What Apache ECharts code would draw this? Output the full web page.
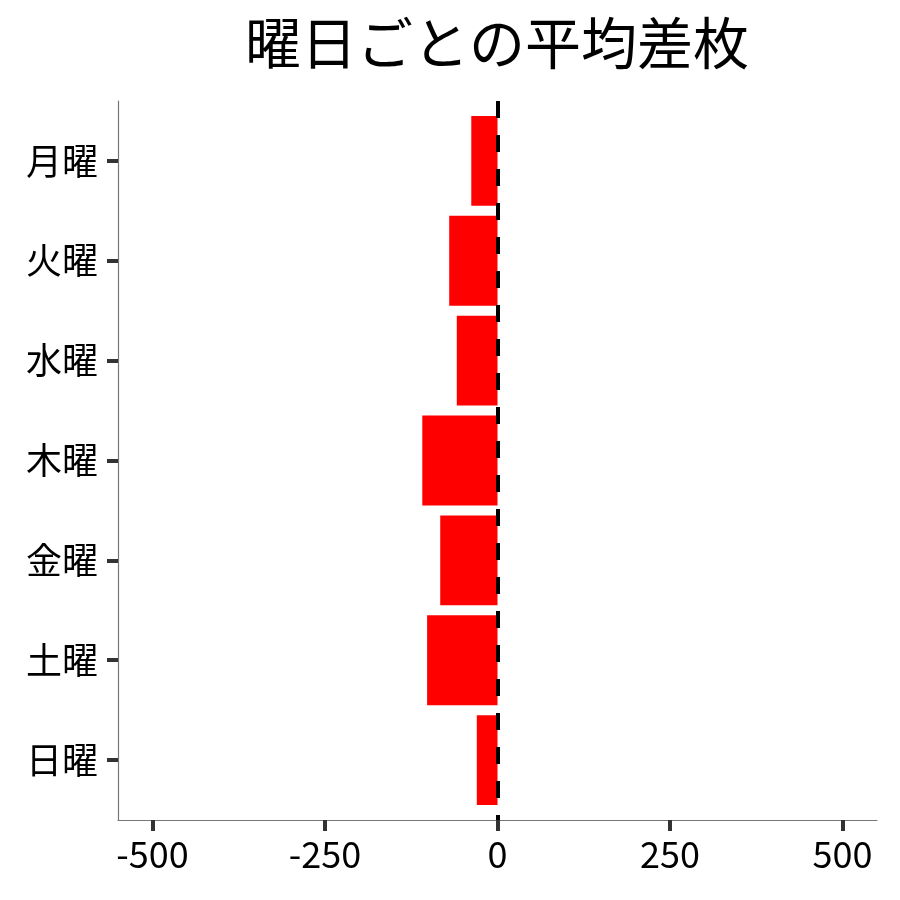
<!DOCTYPE html>
<html>
<head>
<meta charset="utf-8">
<script src="https://cdn.jsdelivr.net/npm/echarts@6/dist/echarts.min.js"></script>
<style>
html, body { margin: 0; padding: 0; background: #fff; }
#chart { width: 900px; height: 900px; }
</style>
</head>
<body>
<div id="chart"></div>
<script>
// 曜日ごとの平均差枚
var days = ['月曜', '火曜', '水曜', '木曜', '金曜', '土曜', '日曜'];
var avgDiff = [-38, -70, -59, -109, -83, -102, -30];
var xTicks = [-500, -250, 0, 250, 500];
var dayPos = [1, 2, 3, 4, 5, 6, 7];

var FONT = '"Noto Sans CJK JP", "Noto Sans", sans-serif';

function renderBar(params, api) {
    var v = api.value(0);
    var y = api.value(1);
    var a = api.coord([0, y - 0.45]);
    var b = api.coord([v, y + 0.45]);
    return {
        type: 'rect',
        shape: {
            x: Math.min(a[0], b[0]),
            y: Math.min(a[1], b[1]),
            width: Math.abs(b[0] - a[0]),
            height: Math.abs(b[1] - a[1])
        },
        style: { fill: '#ff0000' }
    };
}

var chart = echarts.init(document.getElementById('chart'));
chart.setOption({
    animation: false,
    backgroundColor: '#fff',
    title: {
        text: '曜日ごとの平均差枚',
        left: 497,
        top: 15,
        padding: 0,
        textAlign: 'center',
        textStyle: { fontFamily: FONT, fontSize: 56, fontWeight: 'normal', color: '#000' }
    },
    grid: { left: 118, right: 23, top: 101, bottom: 80 },
    xAxis: {
        type: 'value',
        min: -550,
        max: 550,
        splitLine: { show: false },
        axisLine: { show: true, onZero: false, lineStyle: { color: '#777', width: 1.2 } },
        axisTick: { show: true, customValues: xTicks, length: 11, lineStyle: { color: '#333', width: 4 } },
        axisLabel: { customValues: xTicks, margin: 16, fontFamily: FONT, fontSize: 36, color: '#000' }
    },
    yAxis: {
        type: 'value',
        inverse: true,
        min: 0.4,
        max: 7.6,
        splitLine: { show: false },
        axisLine: { show: true, onZero: false, lineStyle: { color: '#777', width: 1.2 } },
        axisTick: { show: true, customValues: dayPos, length: 11, lineStyle: { color: '#333', width: 4 } },
        axisLabel: {
            customValues: dayPos,
            margin: 20,
            fontFamily: FONT,
            fontSize: 36,
            color: '#000',
            formatter: function (v) { return days[Math.round(v) - 1]; }
        }
    },
    series: [{
        type: 'custom',
        renderItem: renderBar,
        encode: { x: 0, y: 1 },
        data: avgDiff.map(function (v, i) { return [v, dayPos[i]]; }),
        markLine: {
            silent: true,
            symbol: ['none', 'none'],
            label: { show: false },
            lineStyle: { color: '#000', width: 4, type: [17, 17] },
            data: [{ xAxis: 0 }]
        }
    }]
});
</script>
</body>
</html>
